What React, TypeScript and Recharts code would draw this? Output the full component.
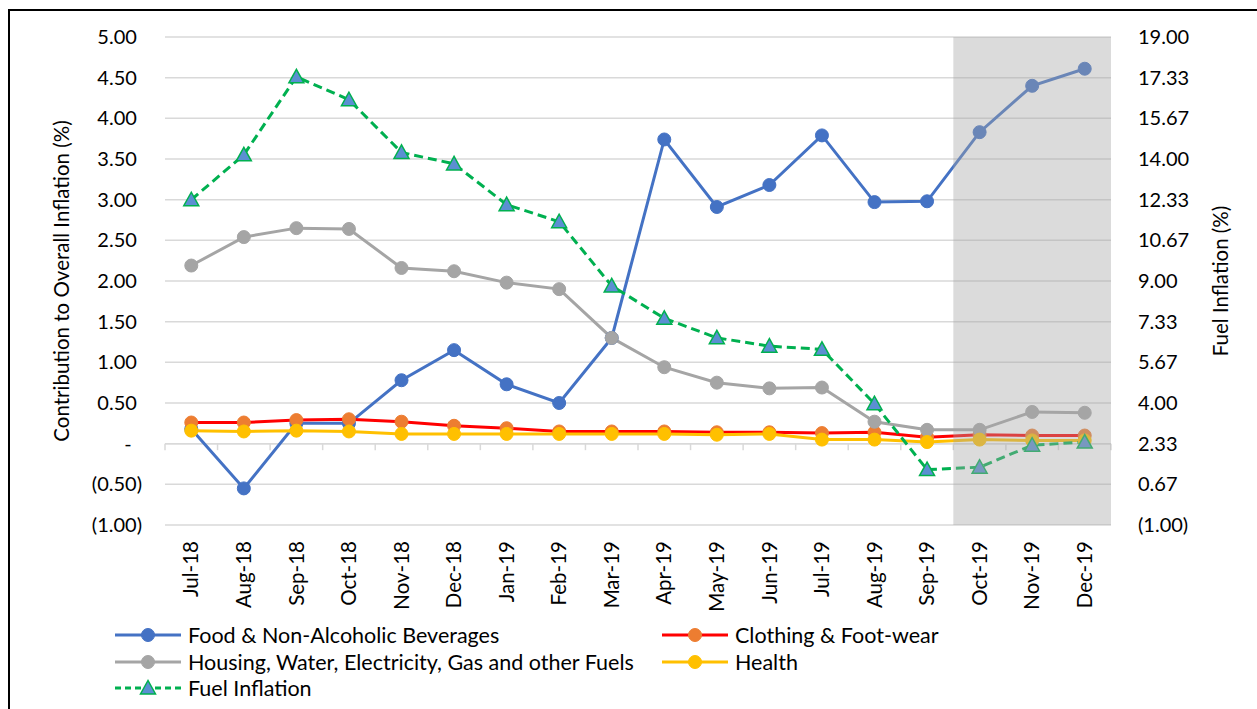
import React from 'react';
import {
  LineChart,
  Line,
  XAxis,
  YAxis,
  CartesianGrid,
  ReferenceArea,
  ReferenceLine,
  Legend,
} from 'recharts';

const months = [
  'Jul-18', 'Aug-18', 'Sep-18', 'Oct-18', 'Nov-18', 'Dec-18', 'Jan-19', 'Feb-19', 'Mar-19',
  'Apr-19', 'May-19', 'Jun-19', 'Jul-19', 'Aug-19', 'Sep-19', 'Oct-19', 'Nov-19', 'Dec-19',
];
const food = [0.18, -0.55, 0.25, 0.25, 0.78, 1.15, 0.73, 0.5, 1.3, 3.74, 2.91, 3.18, 3.79, 2.97, 2.98, 3.83, 4.4, 4.61];
const clothing = [0.26, 0.26, 0.29, 0.3, 0.27, 0.22, 0.19, 0.15, 0.15, 0.15, 0.14, 0.14, 0.13, 0.14, 0.08, 0.11, 0.1, 0.1];
const housing = [2.19, 2.54, 2.65, 2.64, 2.16, 2.12, 1.98, 1.9, 1.3, 0.94, 0.75, 0.68, 0.69, 0.27, 0.17, 0.17, 0.39, 0.38];
const health = [0.16, 0.15, 0.16, 0.15, 0.12, 0.12, 0.12, 0.12, 0.12, 0.12, 0.11, 0.12, 0.05, 0.05, 0.02, 0.05, 0.04, 0.04];
const fuel = [12.33, 14.17, 17.37, 16.43, 14.27, 13.8, 12.13, 11.43, 8.8, 7.47, 6.67, 6.33, 6.2, 3.97, 1.27, 1.37, 2.27, 2.4];

const leftTicks = [-1, -0.5, 0, 0.5, 1, 1.5, 2, 2.5, 3, 3.5, 4, 4.5, 5];
const rightTicks = [-1, 2 / 3, 7 / 3, 4, 17 / 3, 22 / 3, 9, 32 / 3, 37 / 3, 14, 47 / 3, 52 / 3, 19];
const shadedFrom = 'Oct-19';

const data = months.map((m, i) => ({
  idx: i,
  month: m,
  food: food[i],
  clothing: clothing[i],
  housing: housing[i],
  health: health[i],
  fuel: fuel[i],
}));

const FONT = 'Lato, "Open Sans", sans-serif';
const GRID = '#d9d9d9';
const C_FOOD = '#4472C4';
const C_CLOTH_LINE = '#FF0000';
const C_CLOTH_DOT = '#ED7D31';
const C_HOUSING = '#A5A5A5';
const C_HEALTH = '#FFC000';
const C_FUEL = '#00B050';
const C_TRI = '#5B8FD2';

const fmtLeft = (v: number) => {
  if (Math.abs(v) < 1e-9) return '-\u00a0\u00a0';
  if (v < 0) return `(${Math.abs(v).toFixed(2)})`;
  return `${v.toFixed(2)}\u00a0`;
};
const fmtRight = (v: number) => (v < 0 ? `(${Math.abs(v).toFixed(2)})` : v.toFixed(2));

const MonthTick = (props: any) => {
  const { x, y, payload } = props;
  const label = months[payload.value] ?? '';
  return (
    <text
      x={x}
      y={y}
      transform={`rotate(-90, ${x}, ${y})`}
      textAnchor="end"
      dy="0.35em"
      fill="#000"
      fontSize={20.5}
      fontFamily={FONT}
    >
      {label}
    </text>
  );
};

const Triangle = (props: any) => {
  const { cx, cy } = props;
  if (cx == null || cy == null) return null;
  return (
    <polygon
      points={`${cx},${cy - 7.5} ${cx - 7.5},${cy + 6} ${cx + 7.5},${cy + 6}`}
      fill={C_TRI}
      stroke={C_FUEL}
      strokeWidth={1.5}
    />
  );
};

const LeftTitle = (props: any) => {
  const vb = props.viewBox || { x: 10, y: 37, width: 155, height: 488 };
  const x = vb.x + 52;
  const y = vb.y + vb.height / 2;
  return (
    <text x={x} y={y} transform={`rotate(-90, ${x}, ${y})`} textAnchor="middle" dy="0.35em" fill="#000" fontSize={20.5} fontFamily={FONT}>
      Contribution to Overall Inflation (%)
    </text>
  );
};

const RightTitle = (props: any) => {
  const vb = props.viewBox || { x: 1111, y: 37, width: 146, height: 488 };
  const x = vb.x + 110;
  const y = vb.y + vb.height / 2;
  return (
    <text x={x} y={y} transform={`rotate(-90, ${x}, ${y})`} textAnchor="middle" dy="0.35em" fill="#000" fontSize={20.5} fontFamily={FONT}>
      Fuel Inflation (%)
    </text>
  );
};

const legendItems = [
  { name: 'Food & Non-Alcoholic Beverages', line: C_FOOD, marker: C_FOOD, tri: false },
  { name: 'Clothing & Foot-wear', line: C_CLOTH_LINE, marker: C_CLOTH_DOT, tri: false },
  { name: 'Housing, Water, Electricity, Gas and other Fuels', line: C_HOUSING, marker: C_HOUSING, tri: false },
  { name: 'Health', line: C_HEALTH, marker: C_HEALTH, tri: false },
  { name: 'Fuel Inflation', line: C_FUEL, marker: C_TRI, tri: true },
];

const renderLegend = () => {
  const colX = [115, 662];
  const rowY = [15, 42, 68];
  return (
    <svg width={1257} height={85} style={{ display: 'block' }}>
      {legendItems.map((it, i) => {
        const x0 = colX[i % 2];
        const y = rowY[Math.floor(i / 2)];
        const mx = x0 + 33;
        return (
          <g key={it.name}>
            <line
              x1={x0}
              x2={x0 + 66}
              y1={y}
              y2={y}
              stroke={it.line}
              strokeWidth={3}
              strokeDasharray={it.tri ? '6 4' : undefined}
            />
            {it.tri ? (
              <polygon
                points={`${mx},${y - 7.5} ${mx - 7.5},${y + 6} ${mx + 7.5},${y + 6}`}
                fill={C_TRI}
                stroke={C_FUEL}
                strokeWidth={1.5}
              />
            ) : (
              <circle cx={mx} cy={y} r={6.5} fill={it.marker} stroke={it.marker} />
            )}
            <text x={x0 + 73} y={y} dy="0.35em" fontSize={21.5} fontFamily={FONT} fill="#000">
              {it.name}
            </text>
          </g>
        );
      })}
    </svg>
  );
};

const boundaries = [...months.map((_, i) => i - 0.5), months.length - 0.5];
const shadedStart = months.indexOf(shadedFrom) - 0.5;

export default function App() {
  return (
    <div style={{ position: 'absolute', left: 0, top: 0, width: 1257, height: 709, background: '#fff', overflow: 'hidden', fontFamily: FONT }}>
      <div
        style={{
          position: 'absolute',
          left: 8,
          top: 9,
          width: 1300,
          height: 800,
          borderLeft: '2px solid #000',
          borderTop: '2px solid #000',
        }}
      />
      <div style={{ position: 'absolute', left: 0, top: 0 }}>
        <LineChart width={1257} height={709} data={data} margin={{ top: 37, right: 0, bottom: 84, left: 10 }}>
          <CartesianGrid yAxisId="left" vertical={false} stroke={GRID} strokeWidth={1.5} />
          <XAxis
            type="number"
            dataKey="idx"
            domain={[-0.5, months.length - 0.5]}
            ticks={months.map((_, i) => i)}
            interval={0}
            axisLine={false}
            tickLine={false}
            tickSize={0}
            tickMargin={16}
            height={100}
            tick={<MonthTick />}
          />
          <YAxis
            yAxisId="left"
            domain={[-1, 5]}
            ticks={leftTicks}
            interval={0}
            tickFormatter={fmtLeft}
            axisLine={false}
            tickLine={false}
            tickSize={0}
            tickMargin={23}
            width={155}
            tick={{ fill: '#000', fontSize: 20, fontFamily: FONT }}
            label={(p: any) => <LeftTitle {...p} />}
          />
          <YAxis
            yAxisId="right"
            orientation="right"
            domain={[-1, 19]}
            ticks={rightTicks}
            interval={0}
            tickFormatter={fmtRight}
            axisLine={false}
            tickLine={false}
            tickSize={0}
            tickMargin={27}
            width={146}
            tick={{ fill: '#000', fontSize: 20, fontFamily: FONT, textAnchor: 'start' }}
            label={(p: any) => <RightTitle {...p} />}
          />
          <ReferenceLine yAxisId="left" y={0} stroke={GRID} strokeWidth={1.5} />
          {boundaries.map((b) => (
            <ReferenceLine
              key={b}
              yAxisId="left"
              segment={[
                { x: b, y: 0 },
                { x: b, y: -0.08 },
              ]}
              stroke={GRID}
              strokeWidth={1.5}
              ifOverflow="visible"
            />
          ))}
          <Line
            yAxisId="left"
            dataKey="food"
            stroke={C_FOOD}
            strokeWidth={3}
            dot={{ r: 6.5, fill: C_FOOD, stroke: C_FOOD, strokeWidth: 1 }}
            activeDot={false}
            isAnimationActive={false}
          />
          <Line
            yAxisId="left"
            dataKey="clothing"
            stroke={C_CLOTH_LINE}
            strokeWidth={3}
            dot={{ r: 6.5, fill: C_CLOTH_DOT, stroke: C_CLOTH_DOT, strokeWidth: 1 }}
            activeDot={false}
            isAnimationActive={false}
          />
          <Line
            yAxisId="left"
            dataKey="housing"
            stroke={C_HOUSING}
            strokeWidth={3}
            dot={{ r: 6.5, fill: C_HOUSING, stroke: C_HOUSING, strokeWidth: 1 }}
            activeDot={false}
            isAnimationActive={false}
          />
          <Line
            yAxisId="left"
            dataKey="health"
            stroke={C_HEALTH}
            strokeWidth={3}
            dot={{ r: 6.5, fill: C_HEALTH, stroke: C_HEALTH, strokeWidth: 1 }}
            activeDot={false}
            isAnimationActive={false}
          />
          <Line
            yAxisId="right"
            dataKey="fuel"
            stroke={C_FUEL}
            strokeWidth={3}
            strokeDasharray="9 5"
            dot={<Triangle />}
            activeDot={false}
            isAnimationActive={false}
          />
          <ReferenceArea
            yAxisId="left"
            x1={shadedStart}
            x2={months.length - 0.5}
            y1={-1}
            y2={5}
            fill="#a6a6a6"
            fillOpacity={0.4}
            stroke="none"
            zIndex={1000}
          />
          <Legend
            layout="horizontal"
            verticalAlign="middle"
            align="center"
            wrapperStyle={{ left: 0, top: 620, width: 1257, height: 85 }}
            content={renderLegend}
          />
        </LineChart>
      </div>
    </div>
  );
}
